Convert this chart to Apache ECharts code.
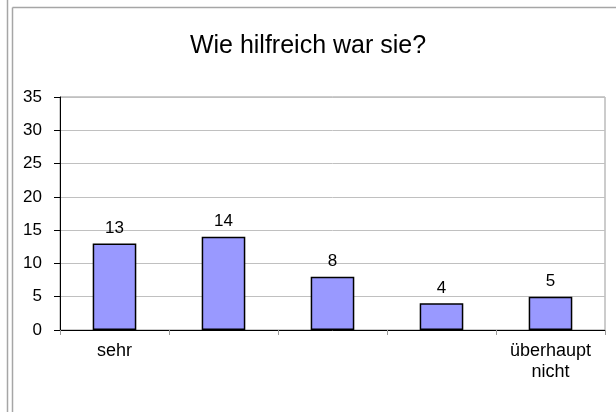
<!DOCTYPE html>
<html>
<head>
<meta charset="utf-8">
<script src="https://cdn.jsdelivr.net/npm/echarts@6/dist/echarts.min.js"></script>
<style>
html,body{margin:0;padding:0;background:#fff;}
#c{width:616px;height:412px;}
</style>
</head>
<body>
<div id="c"></div>
<script>
const titleText = "Wie hilfreich war sie?";
const categories = ["sehr", "", "", "", "überhaupt\nnicht"];
const values = [13, 14, 8, 4, 5];
const yTicks = { min: 0, max: 35, interval: 5 };

const chart = echarts.init(document.getElementById('c'), null, { renderer: 'canvas' });
const font = '"Liberation Sans", Arial, sans-serif';
chart.setOption({
  animation: false,
  backgroundColor: '#ffffff',
  title: {
    text: titleText,
    left: 303, top: 29, textAlign: 'center',
    textStyle: { fontFamily: font, fontSize: 25, fontWeight: 'normal', color: '#000' }
  },
  graphic: [
    { type: 'line', shape: { x1: 7.5, y1: 0, x2: 7.5, y2: 412 }, style: { stroke: '#a6a6a6', lineWidth: 1.5 } },
    { type: 'line', shape: { x1: 12.5, y1: 7.5, x2: 12.5, y2: 412 }, style: { stroke: '#a6a6a6', lineWidth: 1.5 } },
    { type: 'line', shape: { x1: 12.5, y1: 7.5, x2: 616, y2: 7.5 }, style: { stroke: '#a6a6a6', lineWidth: 1.5 } }
  ],
  grid: {
    left: 60, right: 11, top: 97, bottom: 82,
    show: true, borderColor: '#999', borderWidth: 1, backgroundColor: 'transparent'
  },
  xAxis: {
    type: 'category',
    data: categories,
    boundaryGap: true,
    axisLine: { show: true, lineStyle: { color: '#000', width: 1 } },
    axisTick: { show: true, alignWithLabel: false, length: 5, lineStyle: { color: '#999' } },
    axisLabel: { fontFamily: font, fontSize: 18, color: '#000', margin: 11, lineHeight: 21, interval: 0 }
  },
  yAxis: {
    type: 'value',
    min: yTicks.min, max: yTicks.max, interval: yTicks.interval,
    axisLine: { show: true, lineStyle: { color: '#000', width: 1 } },
    axisTick: { show: true, length: 6, lineStyle: { color: '#000' } },
    axisLabel: { fontFamily: font, fontSize: 17, color: '#000', margin: 18 },
    splitLine: { show: true, lineStyle: { color: '#c0c0c0', width: 1 } }
  },
  series: [{
    type: 'bar',
    data: values,
    barWidth: '40%',
    itemStyle: { color: '#9999ff', borderColor: '#000', borderWidth: 1.5 },
    label: { show: true, position: 'top', distance: 7, fontFamily: font, fontSize: 17, color: '#000' }
  }]
});
</script>
</body>
</html>
